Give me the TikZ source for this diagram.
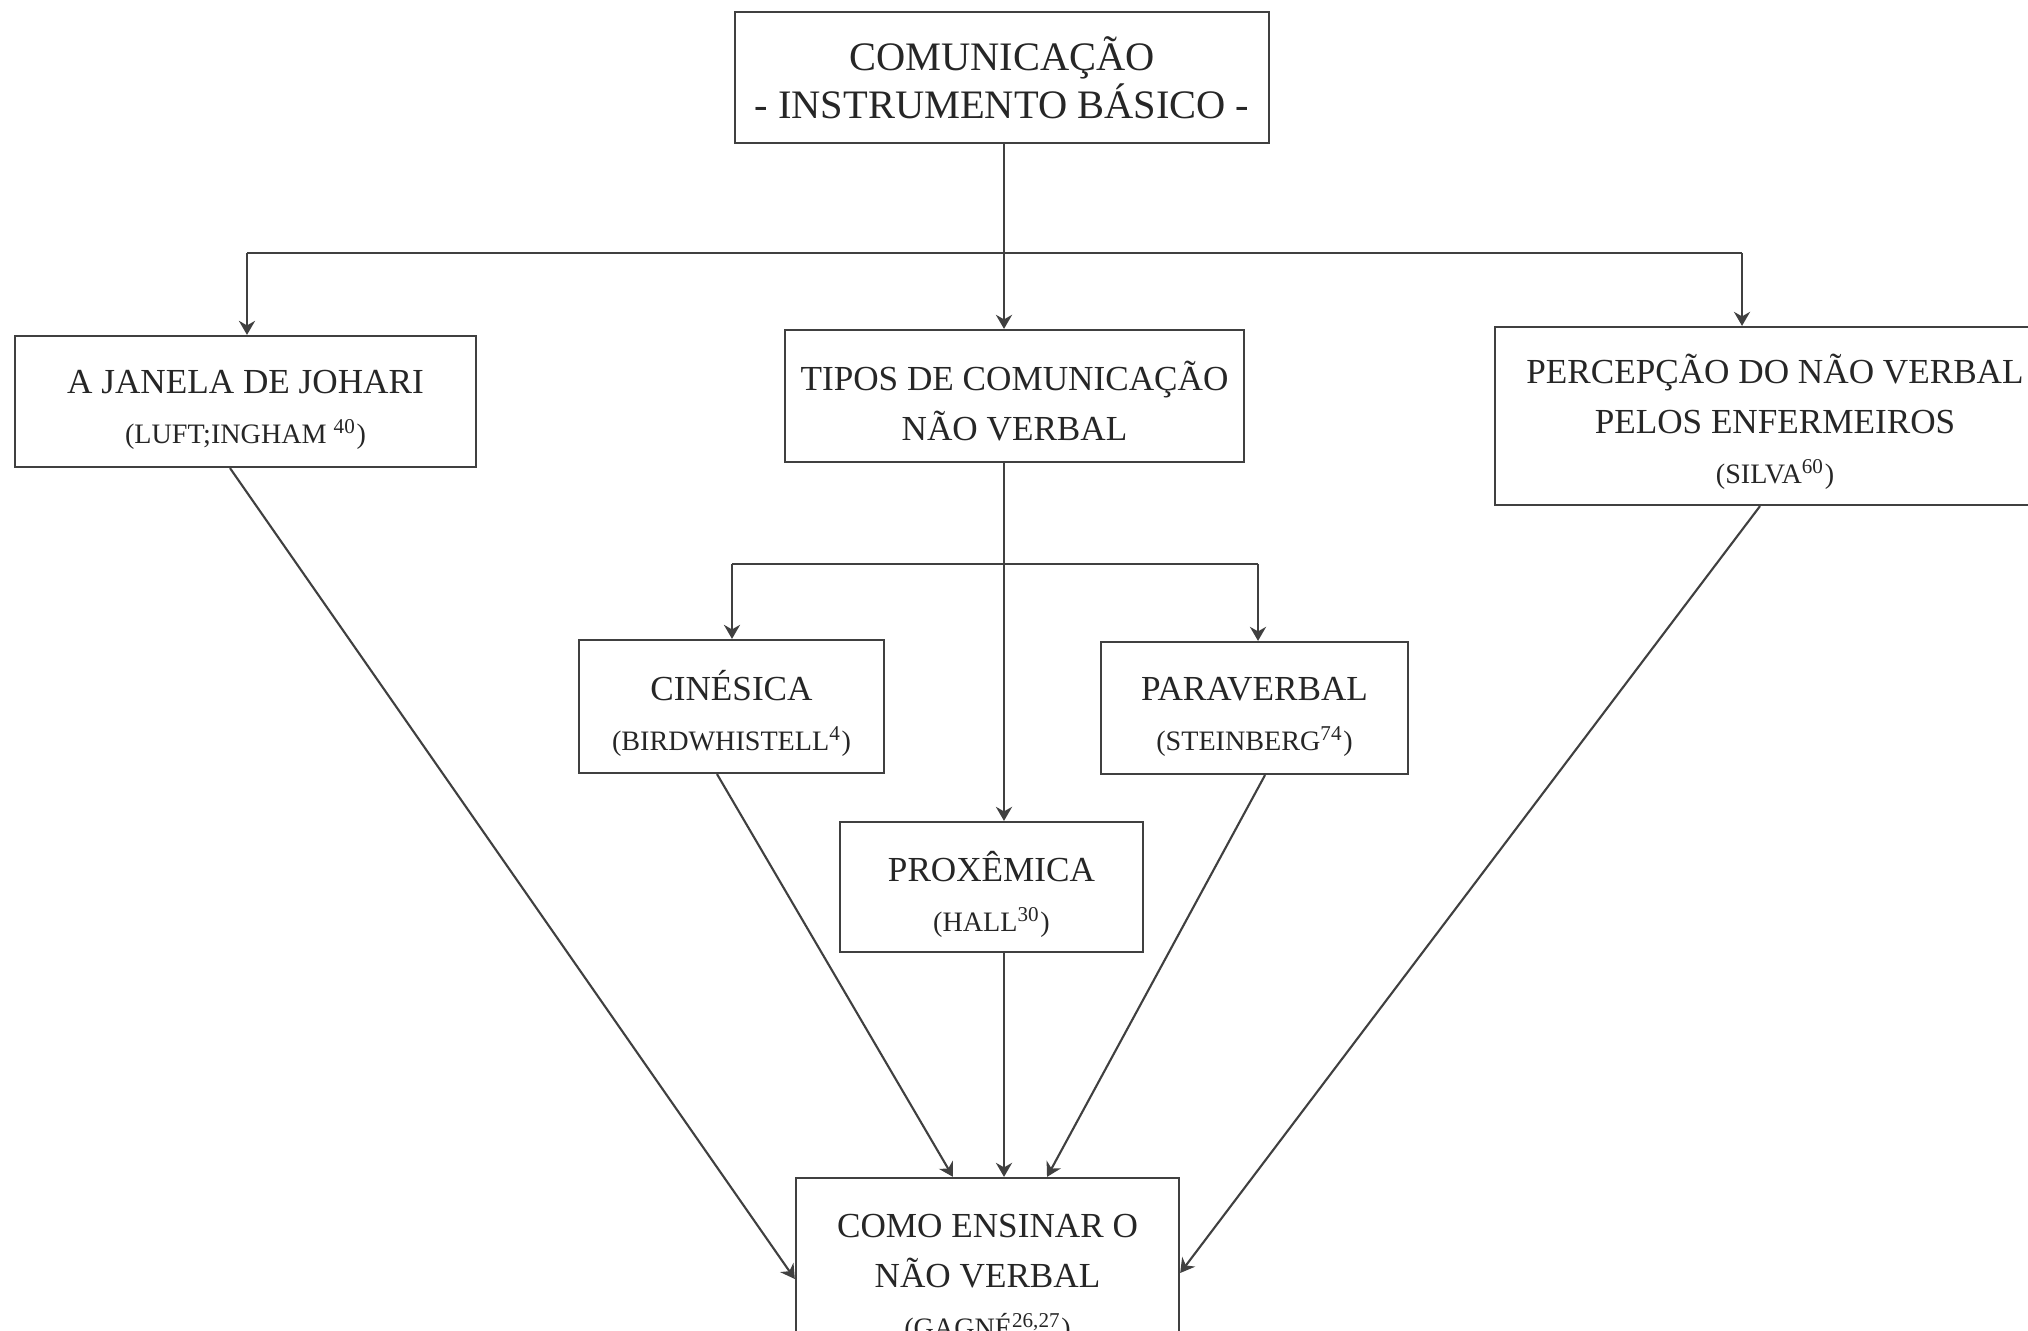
\documentclass[tikz,border=0pt]{standalone}
\usepackage{fontspec}
\setmainfont{Liberation Serif}
\usepackage{tikz}
\usetikzlibrary{arrows.meta}

\newcommand{\cita}[1]{{\fontsize{8}{14.2}\selectfont #1}}
\newcommand{\alto}{\rule{0pt}{11.5pt}}

\begin{document}
\begin{tikzpicture}[x=0.01cm,y=-0.01cm,->,>={Stealth[length=4pt,width=4.6pt]},semithick,draw=black!75]
  \tikzstyle{bloco}=[draw=black!75,fill=white,text=black!85,align=center,inner sep=0pt,font=\fontsize{10}{14.2}\selectfont]
  \useasboundingbox (0,0) rectangle (2028,1331);

  \node[bloco,minimum width=5.34cm,minimum height=1.31cm,font=\fontsize{11.5}{13.7}\selectfont] (topo) at (1002,77.5) {COMUNICAÇÃO\\- INSTRUMENTO BÁSICO -};

  \node[bloco,minimum width=4.61cm,minimum height=1.31cm] (johari) at (245.5,401.5) {\alto A JANELA DE JOHARI\\\cita{(LUFT;INGHAM \textsuperscript{40})}};
  \node[bloco,minimum width=4.59cm,minimum height=1.32cm] (tipos) at (1014.5,396) {\alto TIPOS DE COMUNICAÇÃO\\NÃO VERBAL};
  \node[bloco,minimum width=5.60cm,minimum height=1.78cm] (percep) at (1775,416) {\alto PERCEPÇÃO DO NÃO VERBAL\\PELOS ENFERMEIROS\\\cita{(SILVA\textsuperscript{60})}};

  \node[bloco,minimum width=3.05cm,minimum height=1.33cm] (cinesica) at (731.5,706.5) {\rule{0pt}{12.5pt}CINÉSICA\\\cita{(BIRDWHISTELL\textsuperscript{4})}};
  \node[bloco,minimum width=3.07cm,minimum height=1.32cm] (para) at (1254.5,708) {\alto PARAVERBAL\\\cita{(STEINBERG\textsuperscript{74})}};
  \node[bloco,minimum width=3.03cm,minimum height=1.30cm] (prox) at (991.5,887) {\rule{0pt}{13pt}PROXÊMICA\\\cita{(HALL\textsuperscript{30})}};

  \node[bloco,minimum width=3.83cm,minimum height=2.02cm] (como) at (987.5,1279) {COMO ENSINAR O\\NÃO VERBAL\\\cita{(GAGNÉ\textsuperscript{26,27})}};

  % eixo central e ramos
  \coordinate (eixo) at (1004,0);
  \coordinate (e1) at (247,253);
  \coordinate (d1) at (1742,253);
  \coordinate (e2) at (732,564);
  \coordinate (d2) at (1258,564);

  \draw (eixo |- topo.south) -- (eixo |- tipos.north);
  \draw[-] (e1) -- (d1);
  \draw (e1) -- (e1 |- johari.north);
  \draw (d1) -- (d1 |- percep.north);

  \draw (eixo |- tipos.south) -- (eixo |- prox.north);
  \draw[-] (e2) -- (d2);
  \draw (e2) -- (e2 |- cinesica.north);
  \draw (d2) -- (d2 |- para.north);

  % convergindo para o ensino
  \draw ([xshift=-0.155cm]johari.south) -- (como.west);
  \draw ([xshift=-0.145cm]cinesica.south) -- ([xshift=-0.345cm]como.north);
  \draw (eixo |- prox.south) -- (eixo |- como.north);
  \draw ([xshift=0.105cm]para.south) -- ([xshift=0.595cm]como.north);
  \draw ([xshift=-0.15cm]percep.south) -- ([yshift=0.06cm]como.east);
\end{tikzpicture}
\end{document}
